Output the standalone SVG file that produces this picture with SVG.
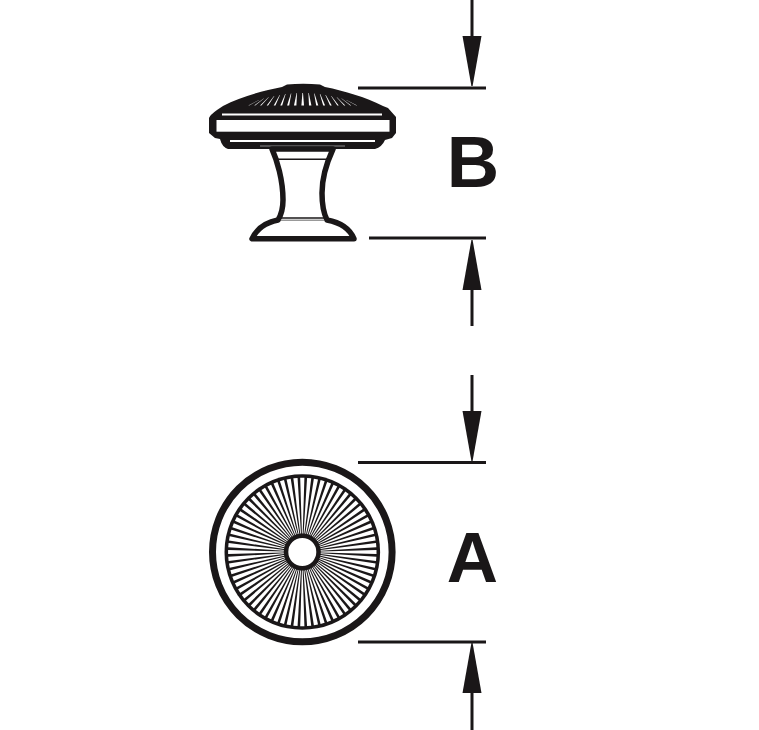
<svg xmlns="http://www.w3.org/2000/svg" xmlns:xlink="http://www.w3.org/1999/xlink" width="759" height="730" viewBox="0 0 759 730">
<style>
.k{fill:#1a1718}
.w{fill:#fff}
.dim{stroke:#1a1718;stroke-width:3;fill:none}
.ln{stroke:#1a1718;fill:none}
.lbl{font-family:"Liberation Sans",Arial,sans-serif;font-weight:700;fill:#1a1718}
</style>
<defs>
<polygon id="head" class="k" points="-9.5,0 9.5,0 0.6,50 -0.6,50"/>
<polygon id="sp" class="w" points="-0.4,-18.5 0.4,-18.5 2.1,-74.2 -2.1,-74.2"/>
<g id="s4"><use xlink:href="#sp"/><use xlink:href="#sp" transform="rotate(5.294)"/><use xlink:href="#sp" transform="rotate(10.588)"/><use xlink:href="#sp" transform="rotate(15.882)"/></g>
<g id="s17"><use xlink:href="#s4"/><use xlink:href="#s4" transform="rotate(21.176)"/><use xlink:href="#s4" transform="rotate(42.353)"/><use xlink:href="#s4" transform="rotate(63.529)"/><use xlink:href="#sp" transform="rotate(84.706)"/></g>
<g id="fan">
<polygon class="w" points="5.7,93.1 6.1,93.1 8.7,105.5 6.3,105.5" transform="translate(0,0)"/>
<polygon class="w" points="11.4,93.5 11.8,93.5 15.6,105.5 13.5,105.5"/>
<polygon class="w" points="17.1,94.1 17.5,94.1 22.4,105.5 20.5,105.5"/>
<polygon class="w" points="22.7,94.9 23.1,94.9 29,105.5 27.3,105.5"/>
<polygon class="w" points="28.3,95.9 28.7,95.9 36,105.5 34.6,105.5"/>
<polygon class="w" points="33.9,97.2 34.3,97.2 42.6,105.5 41.4,105.5"/>
<polygon class="w" points="38.7,98.5 39.1,98.5 48.5,105.5 47.5,105.5"/>
<polygon class="w" points="43.5,100 43.9,100 54.4,105.5 53.6,105.5"/>
</g>
</defs>
<rect width="759" height="730" fill="#fff"/>
<g id="knob-side">
<path class="k" d="M209 118 Q210 115 217 110 L223 106 C240 97 262 91 282 87 L287 84.5 Q303 83 320 84.5 L325 87 C345 91 365 97 383 106 L388 108 L396 117 V133 L392 138 L385 140 Q382 147 375 149 H228 Q222 147 220 139 L215 138 L209 133 Z"/>
<rect class="w" x="222" y="113.5" width="160" height="2"/>
<rect class="w" x="216.5" y="120" width="173" height="11.7"/>
<rect class="w" x="230" y="140" width="145" height="2"/>
<g transform="translate(302.7,0)"><polygon class="w" points="-0.3,93 0.3,93 1.3,105.5 -1.3,105.5"/><use xlink:href="#fan"/><use xlink:href="#fan" transform="scale(-1,1)"/></g>
<line x1="260" y1="146" x2="345" y2="146" stroke="#8a8a8a" stroke-width="1"/>
<path class="w" d="M272 149 C277 160 283 180 283 200 Q283 212 278 220 C268 222 258 226 252 238.8 H354 C349 227 338 222 327 220 Q322 210 322 193 C322 178 327 162 333 149 Z" stroke="#1a1718" stroke-width="5.5" stroke-linejoin="round"/>
<line class="ln" x1="277" y1="159.3" x2="328" y2="159.3" stroke-width="1.5"/>
<line class="ln" x1="281" y1="218" x2="324" y2="218" stroke-width="1.5"/>
<line x1="281" y1="220.3" x2="324" y2="220.3" stroke="#999" stroke-width="1.5"/>
</g>
<g id="knob-top">
<circle class="ln" cx="302.3" cy="552" r="89.8" stroke-width="7"/>
<circle class="k" cx="302.3" cy="552" r="77.8"/>
<g transform="translate(302.3,552)">
<use xlink:href="#s17"/><use xlink:href="#s17" transform="rotate(90)"/><use xlink:href="#s17" transform="rotate(180)"/><use xlink:href="#s17" transform="rotate(270)"/>
</g>
<circle class="w" cx="302.3" cy="552" r="15.5" stroke="#1a1718" stroke-width="3"/>
</g>
<g id="connectors">
<path class="dim" d="M358 88H486M369 238H486M358 462.500H486M358 642H486"/>
<path class="dim" d="M472 0V38M472 288V326M472 375V413M472 690V730"/>
<use xlink:href="#head" transform="translate(472,36)"/>
<use xlink:href="#head" transform="translate(472,290) scale(1,-1)"/>
<use xlink:href="#head" transform="translate(472,411)"/>
<use xlink:href="#head" transform="translate(472,693) scale(1,-1)"/>
</g>
<g id="label-b"><text class="lbl" x="446.700" y="187" font-size="72.600">B</text></g>
<g id="label-a"><text class="lbl" x="472.500" y="581.700" font-size="71" text-anchor="middle">A</text></g>
</svg>
